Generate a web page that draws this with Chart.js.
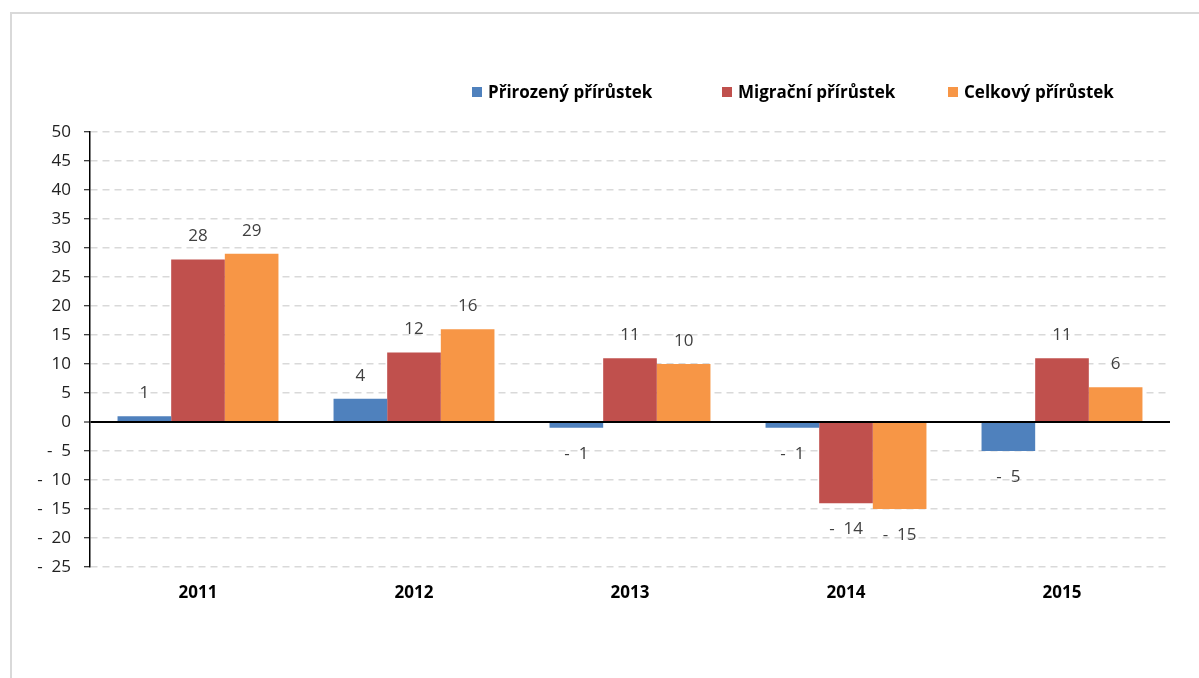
<!DOCTYPE html>
<html><head><meta charset="utf-8">
<script src="https://cdn.jsdelivr.net/npm/chart.js@4"></script>
<style>
html,body{margin:0;padding:0;background:#fff;overflow:hidden;width:1199px;height:678px;}
#frame{position:absolute;left:10px;top:12px;width:1300px;height:800px;border-left:2px solid #d9d9d9;border-top:2px solid #d9d9d9;}
#c{position:absolute;left:0;top:0;}
</style></head><body>
<div id="frame"></div>
<canvas id="c" width="1199" height="678"></canvas>
<script>
const categories = ['2011', '2012', '2013', '2014', '2015'];
const seriesNames = ['Přirozený přírůstek', 'Migrační přírůstek', 'Celkový přírůstek'];
const prirozeny = [1, 4, -1, -1, -5];
const migracni = [28, 12, 11, -14, 11];
const celkovy = [29, 16, 10, -15, 6];
const yMin = -25, yMax = 50, yStep = 5;
const seriesColors = ['#4f81bd', '#c0504d', '#f79646'];

const FONT = '"Open Sans", "Noto Sans", sans-serif';
function fmt(v) { return v < 0 ? '-  ' + Math.abs(v) : String(v); }

const dataLabels = {
  id: 'dataLabels',
  afterDatasetsDraw(chart) {
    const ctx = chart.ctx;
    ctx.save();
    ctx.font = '17px ' + FONT;
    ctx.fillStyle = '#404040';
    ctx.textAlign = 'center';
    ctx.textBaseline = 'middle';
    chart.data.datasets.forEach((ds, di) => {
      const meta = chart.getDatasetMeta(di);
      meta.data.forEach((el, i) => {
        const v = ds.data[i];
        const y = v >= 0 ? el.y - 23 : el.y + 26;
        ctx.fillText(fmt(v), el.x, y);
      });
    });
    ctx.restore();
  }
};

const customLegend = {
  id: 'customLegend',
  afterDraw(chart) {
    const ctx = chart.ctx;
    const starts = [472, 722, 948];
    ctx.save();
    ctx.font = 'bold 17px ' + FONT;
    ctx.textBaseline = 'middle';
    ctx.textAlign = 'left';
    chart.data.datasets.forEach((ds, i) => {
      const x = starts[i];
      ctx.fillStyle = ds.backgroundColor;
      ctx.fillRect(x, 87, 10, 10);
      ctx.fillStyle = '#000';
      ctx.fillText(ds.label, x + 16, 93);
    });
    ctx.restore();
  }
};

new Chart(document.getElementById('c'), {
  type: 'bar',
  data: {
    labels: categories,
    datasets: [
      { label: seriesNames[0], data: prirozeny, backgroundColor: seriesColors[0] },
      { label: seriesNames[1], data: migracni, backgroundColor: seriesColors[1] },
      { label: seriesNames[2], data: celkovy, backgroundColor: seriesColors[2] }
    ]
  },
  options: {
    responsive: false,
    animation: false,
    events: [],
    layout: { padding: { left: 0, right: 29, top: 132, bottom: 0 } },
    datasets: { bar: { categoryPercentage: 0.745, barPercentage: 1.0 } },
    plugins: { legend: { display: false }, tooltip: { enabled: false } },
    scales: {
      x: {
        grid: { display: false, drawTicks: false },
        border: { display: false },
        ticks: { padding: 16, color: '#000', font: { family: FONT, size: 17, weight: 'bold' } },
        afterFit(s) { s.height = 111; }
      },
      y: {
        min: yMin, max: yMax,
        ticks: {
          stepSize: yStep, padding: 13, color: '#222',
          font: { family: FONT, size: 17 },
          callback: v => fmt(v)
        },
        grid: {
          color: c => (c.tick && c.tick.value === 0) ? '#000' : '#d9d9d9',
          lineWidth: c => (c.tick && c.tick.value === 0) ? 2 : 1.5,
          tickColor: '#000', tickLength: 6, tickWidth: 1, tickBorderDash: []
        },
        border: {
          display: true, color: '#000', width: 1.5,
          dash: c => (c.tick && c.tick.value === 0) ? [] : [7, 5]
        },
        afterFit(s) { s.width = 90; }
      }
    }
  },
  plugins: [dataLabels, customLegend]
});
</script>
</body></html>
